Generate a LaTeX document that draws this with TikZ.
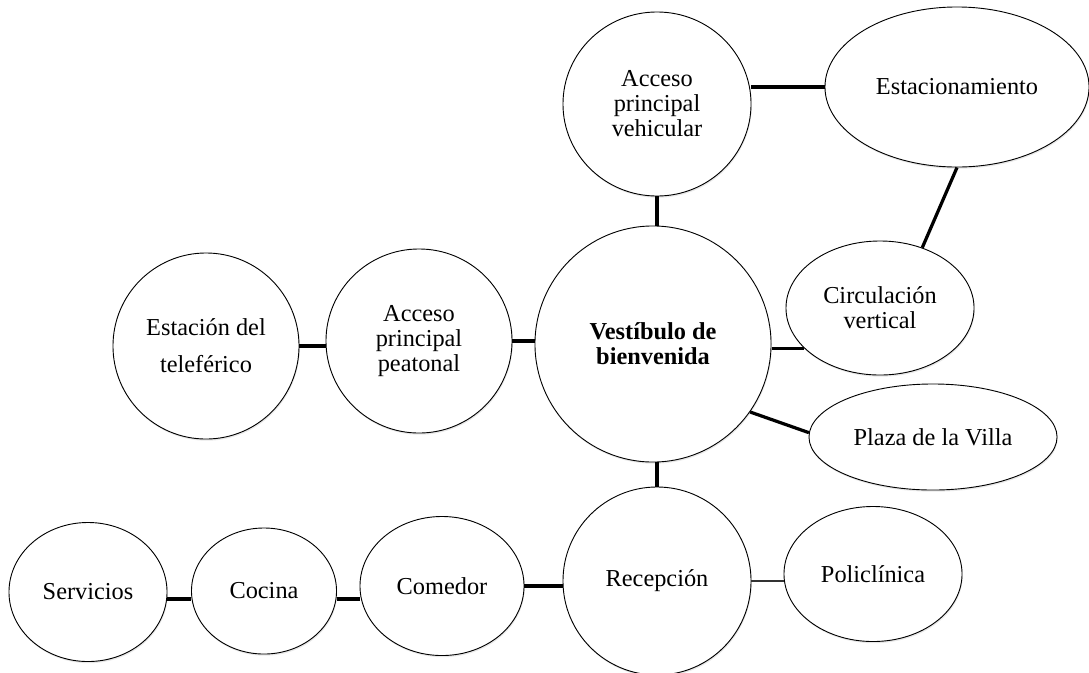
\documentclass[tikz,border=0pt]{standalone}
\usepackage{fontspec}
\setmainfont{Liberation Serif}
\usetikzlibrary{shapes.geometric, shadows}

\begin{document}
\begin{tikzpicture}[x=0.025cm, y=-0.025cm,
    room/.style={draw, ellipse, fill=white, line width=0.65pt, inner sep=0pt, align=center,
        font=\fontsize{17.3}{17.8}\selectfont,
        drop shadow={opacity=0.18, shadow xshift=0.5pt, shadow yshift=-1.2pt}},
    link/.style={line width=2.3pt},
    thinlink/.style={line width=1.2pt, black!80}]
    \useasboundingbox (0,0) rectangle (1089,672);

    % Top: vehicular access
    \node[room, minimum width=4.7cm, minimum height=4.6cm] (apv) at (657,104) {Acceso\\principal\\vehicular};
    \node[room, minimum width=6.6cm, minimum height=4cm] (est) at (957,87) {Estacionamiento};
    \node[room, minimum width=4.7cm, minimum height=3.35cm] (cv) at (880,308) {Circulación\\vertical};

    % Middle row
    \node[room, minimum width=5.9cm, minimum height=5.9cm, font=\fontsize{17.3}{17.8}\selectfont\bfseries] (vest) at (653,344) {Vestíbulo de\\bienvenida};
    \node[room, minimum width=4.65cm, minimum height=4.6cm] (pea) at (419,341) {Acceso\\principal\\peatonal};
    \node[room, minimum width=4.65cm, minimum height=4.65cm] (tel) at (206,346) {Estación del\\[8.5pt]teleférico};
    \node[room, minimum width=6.2cm, minimum height=2.65cm] (plaza) at (933,437) {Plaza de la Villa};

    % Bottom row
    \node[room, minimum width=4.7cm, minimum height=4.7cm] (rec) at (657,581) {Recepción};
    \node[room, minimum width=4.45cm, minimum height=3.375cm] (pol) at (873,574) {Policlínica};
    \node[room, minimum width=4.1cm, minimum height=3.475cm] (com) at (442,586) {Comedor};
    \node[room, minimum width=3.625cm, minimum height=3.15cm] (coc) at (264,591) {Cocina};
    \node[room, minimum width=3.95cm, minimum height=3.475cm] (ser) at (88,592) {Servicios};
    \coordinate (rowline) at (0,599);

    % Links
    \draw[link] (est.west -| apv.east) -- (est.west);
    \draw[link] (apv.south) -- (apv.south |- vest.north);
    \draw[link] (est.south) -- (cv.55);
    \draw[link] (vest.east |- cv.208) -- (cv.208);
    \draw[link] (vest.-35) -- (plaza.178);
    \draw[link] (rec.north |- vest.south) -- (rec.north);
    \draw[thinlink] (rec.east) -- (rec.east -| pol.west);
    \draw[link] (com.east) -- (com.east -| rec.west);
    \draw[link] (coc.east |- rowline) -- (com.west |- rowline);
    \draw[link] (ser.east |- rowline) -- (coc.west |- rowline);
    \draw[link] (pea.east) -- (pea.east -| vest.west);
    \draw[link] (tel.east) -- (tel.east -| pea.west);
\end{tikzpicture}
\end{document}
